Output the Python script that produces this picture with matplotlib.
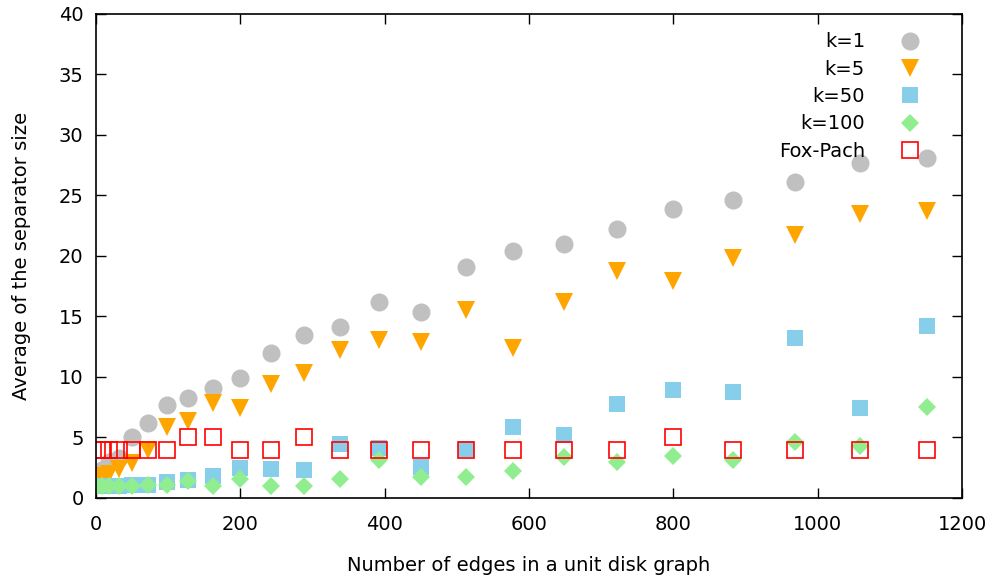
import matplotlib
matplotlib.use('Agg')
import matplotlib.pyplot as plt

# values
edges = [2, 8, 18, 32, 50, 72, 98, 128, 162, 200, 242, 288,
         338, 392, 450, 512, 578, 648, 722, 800, 882, 968, 1058, 1152]

k1 = [1.6, 2.3, 3.0, 3.3, 5.0, 6.2, 7.7, 8.3, 9.1, 9.9, 12.0, 13.5,
      14.1, 16.2, 15.4, 19.1, 20.4, 21.0, 22.2, 23.9, 24.6, 26.1, 27.7, 28.1]
k5 = [1.5, 1.8, 2.0, 2.4, 2.9, 4.0, 5.9, 6.4, 7.85, 7.4, 9.4, 10.3,
      12.2, 13.05, 12.9, 15.5, 12.4, 16.2, 18.8, 17.9, 19.8, 21.7, 23.5, 23.7]
k50 = [1.0, 1.0, 1.0, 1.0, 1.05, 1.1, 1.3, 1.45, 1.8, 2.45, 2.4, 2.3,
       4.45, 4.1, 2.6, 4.05, 5.9, 5.2, 7.8, 8.9, 8.75, 13.2, 7.4, 14.2]
k100 = [1.0, 1.0, 1.0, 1.0, 1.0, 1.05, 1.05, 1.4, 1.0, 1.55, 1.0, 1.0,
        1.6, 3.15, 1.75, 1.75, 2.25, 3.35, 2.95, 3.5, 3.1, 4.65, 4.3, 7.5]
fox_pach = [4, 4, 4, 4, 4, 4, 4, 5, 5, 4, 4, 5,
            4, 4, 4, 4, 4, 4, 4, 5, 4, 4, 4, 4]


def plot_separators():
    plt.rcParams['font.family'] = ['DejaVu Sans']
    fig = plt.figure(figsize=(9.92, 5.8), dpi=100)
    ax = fig.add_axes([0.0968, 0.1414, 0.8730, 0.8345])

    ax.plot(edges, k1, 'o', ms=13, color='#c0c0c0', mew=0, label='k=1')
    ax.plot(edges, k5, 'v', ms=12.5, color='#ffa500', mew=0, label='k=5')
    ax.plot(edges, k50, 's', ms=12, color='#87ceeb', mew=0, label='k=50')
    ax.plot(edges, k100, 'D', ms=9, color='#90ee90', mew=0, label='k=100')
    ax.plot(edges, fox_pach, 's', ms=11, mfc='none', mec='#ff0000', mew=1.2,
            label='Fox-Pach')

    ax.set_xlim(0, 1200)
    ax.set_ylim(0, 40)
    ax.set_xticks(range(0, 1201, 200))
    ax.set_yticks(range(0, 41, 5))
    ax.tick_params(direction='in', length=7, width=1, top=True, right=True,
                   labelsize=14)
    ax.tick_params(axis='x', pad=12)
    ax.tick_params(axis='y', pad=9)
    for s in ax.spines.values():
        s.set_linewidth(1.2)

    ax.set_xlabel('Number of edges in a unit disk graph', fontsize=14, labelpad=16)
    ax.set_ylabel('Average of the separator size', fontsize=14, labelpad=20)

    ax.legend(loc='upper right', frameon=False, markerfirst=False, fontsize=14,
              handlelength=1.2, handletextpad=1.7, labelspacing=0.43,
              borderaxespad=0.0, bbox_to_anchor=(0.962, 0.978))

    fig.savefig('out.png')


if __name__ == '__main__':
    plot_separators()
